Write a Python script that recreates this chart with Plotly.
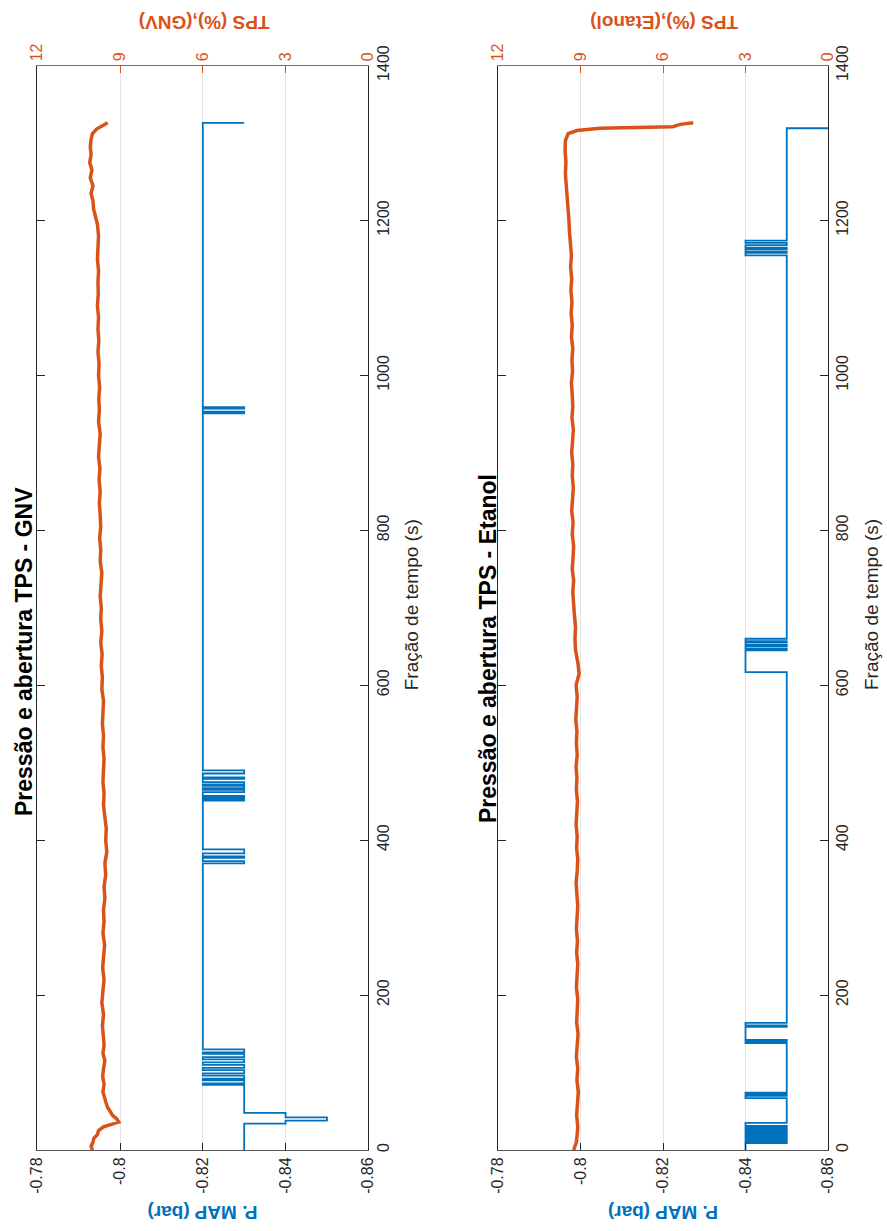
import plotly.graph_objects as go

# ---------------- data ----------------
# time axis ticks (s)
time_ticks = [0, 200, 400, 600, 800, 1000, 1200, 1400]
# P. MAP axis ticks (bar)
map_ticks = [-0.78, -0.80, -0.82, -0.84, -0.86]
map_ticklabels = ["-0.78", "-0.8", "-0.82", "-0.84", "-0.86"]
# TPS axis ticks (%)
tps_ticks = [12, 9, 6, 3, 0]
tps_ticklabels = ["12", "9", "6", "3", "0"]

# GNV: manifold pressure, step changes (time s, value bar)
gnv_map_t = [0, 34, 38, 42, 48,
             84, 86, 90, 92, 96, 99, 103, 106, 110, 113, 117, 120, 124, 126, 130,
             370, 373, 377, 379, 383, 388,
             451, 453, 455, 457, 462, 465, 467, 470, 472, 475, 479, 481, 486, 490,
             951, 953, 957, 959,
             1326]
gnv_map_v = [-0.83, -0.84, -0.85, -0.84, -0.83,
             -0.82, -0.83, -0.82, -0.83, -0.82, -0.83, -0.82, -0.83, -0.82, -0.83, -0.82, -0.83, -0.82, -0.83, -0.82,
             -0.83, -0.82, -0.83, -0.82, -0.83, -0.82,
             -0.83, -0.82, -0.83, -0.82, -0.83, -0.82, -0.83, -0.82, -0.83, -0.82, -0.83, -0.82, -0.83, -0.82,
             -0.83, -0.82, -0.83, -0.82,
             -0.83]

# GNV: throttle position (time s, %)
gnv_tps_t = [0, 5, 10, 15, 20, 25, 30, 33, 36, 40, 45, 50, 55, 60, 68, 75, 85, 95, 105, 115,
             125, 135, 145, 160, 175, 190, 205, 220, 235, 250, 265, 280, 295, 310, 325, 340,
             355, 370, 385, 400, 415, 430, 445, 460, 475, 490, 505, 520, 535, 550, 565, 580,
             595, 610, 625, 640, 655, 670, 685, 700, 715, 730, 745, 760, 775, 790, 805, 820,
             835, 850, 865, 880, 895, 910, 925, 940, 955, 970, 985, 1000, 1015, 1030, 1045,
             1060, 1075, 1090, 1105, 1120, 1135, 1150, 1165, 1180, 1195, 1205, 1215, 1225,
             1235, 1245, 1255, 1265, 1275, 1285, 1295, 1305, 1312, 1318, 1322, 1326]
gnv_tps_v = [10.0, 10.05, 9.98, 9.95, 9.82, 9.78, 9.6, 9.3, 9.05, 9.12, 9.28, 9.36, 9.45, 9.5, 9.58, 9.62, 9.58, 9.63, 9.6, 9.55,
             9.62, 9.58, 9.6, 9.64, 9.6, 9.66, 9.62, 9.58, 9.63, 9.6, 9.56, 9.62, 9.58, 9.6, 9.55, 9.58,
             9.52, 9.55, 9.48, 9.52, 9.5, 9.55, 9.6, 9.58, 9.62, 9.6, 9.58, 9.62, 9.6, 9.64, 9.62, 9.6,
             9.66, 9.64, 9.68, 9.65, 9.7, 9.66, 9.7, 9.68, 9.72, 9.7, 9.66, 9.72, 9.7, 9.74, 9.7, 9.72,
             9.75, 9.72, 9.76, 9.73, 9.78, 9.75, 9.72, 9.78, 9.75, 9.77, 9.74, 9.78, 9.76, 9.8, 9.77,
             9.8, 9.78, 9.82, 9.79, 9.8, 9.78, 9.82, 9.8, 9.78, 9.82, 9.9, 9.96, 9.98,
             10.05, 9.98, 10.08, 10.02, 10.1, 10.05, 10.08, 10.05, 10.0, 9.85, 9.65, 9.45]

# Etanol: manifold pressure, step changes (time s, value bar)
eta_map_t = [0, 9, 11, 13, 15, 17, 19, 21, 23, 25, 27, 29, 31, 35,
             67, 70, 72, 74,
             138, 140, 142, 159, 161, 164,
             617, 645, 647, 650, 652, 655, 657, 660,
             1155, 1158, 1160, 1163, 1165, 1168, 1171, 1174,
             1319]
eta_map_v = [-0.84, -0.85, -0.84, -0.85, -0.84, -0.85, -0.84, -0.85, -0.84, -0.85, -0.84, -0.85, -0.84, -0.85,
             -0.84, -0.85, -0.84, -0.85,
             -0.84, -0.85, -0.84, -0.85, -0.84, -0.85,
             -0.84, -0.85, -0.84, -0.85, -0.84, -0.85, -0.84, -0.85,
             -0.84, -0.85, -0.84, -0.85, -0.84, -0.85, -0.84, -0.85,
             -0.86]

# Etanol: throttle position (time s, %)
eta_tps_t = [0, 10, 20, 30, 45, 60, 75, 90, 105, 120, 135, 150, 165, 180, 195, 210, 225, 240,
             255, 270, 285, 300, 315, 330, 345, 360, 375, 390, 405, 420, 435, 450, 465, 480,
             495, 510, 525, 540, 555, 570, 585, 600, 615, 630, 645, 660, 675, 690, 705, 720,
             735, 750, 765, 780, 795, 810, 825, 840, 855, 870, 885, 900, 915, 930, 945, 960,
             975, 990, 1005, 1020, 1035, 1050, 1065, 1080, 1095, 1110, 1125, 1140, 1155, 1170,
             1185, 1200, 1215, 1230, 1245, 1260, 1275, 1290, 1303, 1312, 1316, 1319, 1321, 1324, 1326]
eta_tps_v = [9.25, 9.15, 9.12, 9.1, 9.14, 9.12, 9.08, 9.13, 9.1, 9.15, 9.12, 9.09, 9.14, 9.12, 9.1, 9.15, 9.12, 9.1,
             9.14, 9.11, 9.15, 9.12, 9.1, 9.13, 9.16, 9.12, 9.1, 9.14, 9.12, 9.16, 9.13, 9.11, 9.15, 9.13,
             9.16, 9.12, 9.15, 9.13, 9.17, 9.14, 9.12, 9.16, 9.05, 9.1, 9.18, 9.2, 9.18, 9.22, 9.25, 9.28,
             9.25, 9.3, 9.27, 9.25, 9.3, 9.27, 9.32, 9.28, 9.26, 9.3, 9.28, 9.32, 9.29, 9.26, 9.31, 9.28,
             9.3, 9.33, 9.29, 9.31, 9.28, 9.33, 9.3, 9.34, 9.31, 9.35, 9.32, 9.36, 9.33, 9.38,
             9.4, 9.42, 9.45, 9.5, 9.52, 9.55, 9.53, 9.56, 9.55, 9.45, 9.13, 8.3, 5.64, 5.38, 4.9]

# ---------------- styling ----------------
W, H = 887, 1231
BLUE = "#0072BD"
ORANGE = "#D95319"
DARK = "#262626"
GRID = "#e4e4e4"
FONT = "Arial, Liberation Sans, Helvetica, sans-serif"

PANEL_X = [(37.3, 368.3), (498.0, 828.0)]
PLOT_TOP, PLOT_BOTTOM = 65.5, 1150.0


def px_x(v):
    return v / W


def px_y(v):
    return 1 - v / H


ydom = [px_y(PLOT_BOTTOM), px_y(PLOT_TOP)]

fig = go.Figure()

panels = [
    (gnv_map_t, gnv_map_v, gnv_tps_t, gnv_tps_v),
    (eta_map_t, eta_map_v, eta_tps_t, eta_tps_v),
]

layout = dict(
    width=W, height=H, autosize=False,
    margin=dict(l=0, r=0, t=0, b=0, pad=0),
    paper_bgcolor="white", plot_bgcolor="white",
    showlegend=False,
    font=dict(family=FONT, color=DARK),
)

for i, (mt, mv, tt, tv) in enumerate(panels):
    xa_map = f"x{2 * i + 1}"
    xa_tps = f"x{2 * i + 2}"
    ya = f"y{i + 1}"
    xa_map_key = "xaxis" if i == 0 else f"xaxis{2 * i + 1}"
    xa_tps_key = f"xaxis{2 * i + 2}"
    ya_key = "yaxis" if i == 0 else f"yaxis{i + 1}"
    xa_map_ref = "x" if i == 0 else xa_map
    ya_ref = "y" if i == 0 else ya

    fig.add_trace(go.Scatter(
        x=mv, y=mt, mode="lines", line=dict(color=BLUE, width=1.8, shape="vh"),
        xaxis=xa_map_ref, yaxis=ya_ref, hoverinfo="skip"))
    fig.add_trace(go.Scatter(
        x=tv, y=tt, mode="lines", line=dict(color=ORANGE, width=3.5),
        xaxis=xa_tps, yaxis=ya_ref, hoverinfo="skip"))

    dom = [px_x(PANEL_X[i][0]), px_x(PANEL_X[i][1])]

    layout[xa_map_key] = dict(
        domain=dom, anchor=ya_ref, side="bottom", automargin=False,
        range=[-0.78, -0.86], autorange=False,
        tickmode="array", tickvals=map_ticks, ticktext=map_ticklabels,
        tickangle=-90, ticks="inside", ticklen=7, tickcolor=DARK,
        tickfont=dict(size=16, color=DARK, family=FONT),
        showline=True, linecolor="#555555", linewidth=1,
        showgrid=True, gridcolor=GRID, gridwidth=1, zeroline=False,
    )
    layout[xa_tps_key] = dict(
        overlaying=xa_map_ref, anchor=ya_ref, side="top", automargin=False,
        range=[12, 0], autorange=False,
        tickmode="array", tickvals=tps_ticks, ticktext=tps_ticklabels,
        tickangle=-90, ticks="inside", ticklen=7, tickcolor=ORANGE,
        tickfont=dict(size=16, color=ORANGE, family=FONT),
        showline=True, linecolor=ORANGE, linewidth=1,
        showgrid=False, zeroline=False,
    )
    layout[ya_key] = dict(
        domain=ydom, anchor=xa_map_ref, side="right", automargin=False,
        range=[0, 1400], autorange=False,
        tickmode="array", tickvals=time_ticks,
        tickangle=-90, ticks="inside", ticklen=8, tickcolor=DARK,
        tickfont=dict(size=16, color=DARK, family=FONT),
        showline=True, linecolor=DARK, linewidth=1, mirror="ticks",
        showgrid=False, zeroline=False,
    )

fig.update_layout(**layout)

# rotated titles and axis labels
titles = ["Pressão e abertura TPS - GNV", "Pressão e abertura TPS - Etanol"]
tps_labels = ["TPS (%),(GNV)", "TPS (%),(Etanol)"]
title_x = [24, 488]
title_y = [652, 648]


def label(text, x, y, angle, size, color):
    return dict(text=text, x=px_x(x), y=px_y(y), xref="paper", yref="paper",
                xanchor="center", yanchor="middle", showarrow=False,
                textangle=angle, font=dict(size=size, color=color, family=FONT))


ann = []
for i in range(2):
    x0, x1 = PANEL_X[i]
    xc = (x0 + x1) / 2
    ann.append(label(f"<b>{titles[i]}</b>", title_x[i], title_y[i], -90, 23, "black"))
    ann.append(label("Fração de tempo (s)", x1 + 43, 605, -90, 19, DARK))
    ann.append(label("<b>P. MAP (bar)</b>", xc, 1213, 180, 19, BLUE))
    ann.append(label(f"<b>{tps_labels[i]}</b>", xc + 1, 23, 180, 19, ORANGE))
fig.update_layout(annotations=ann)

fig.write_html("out.html")
